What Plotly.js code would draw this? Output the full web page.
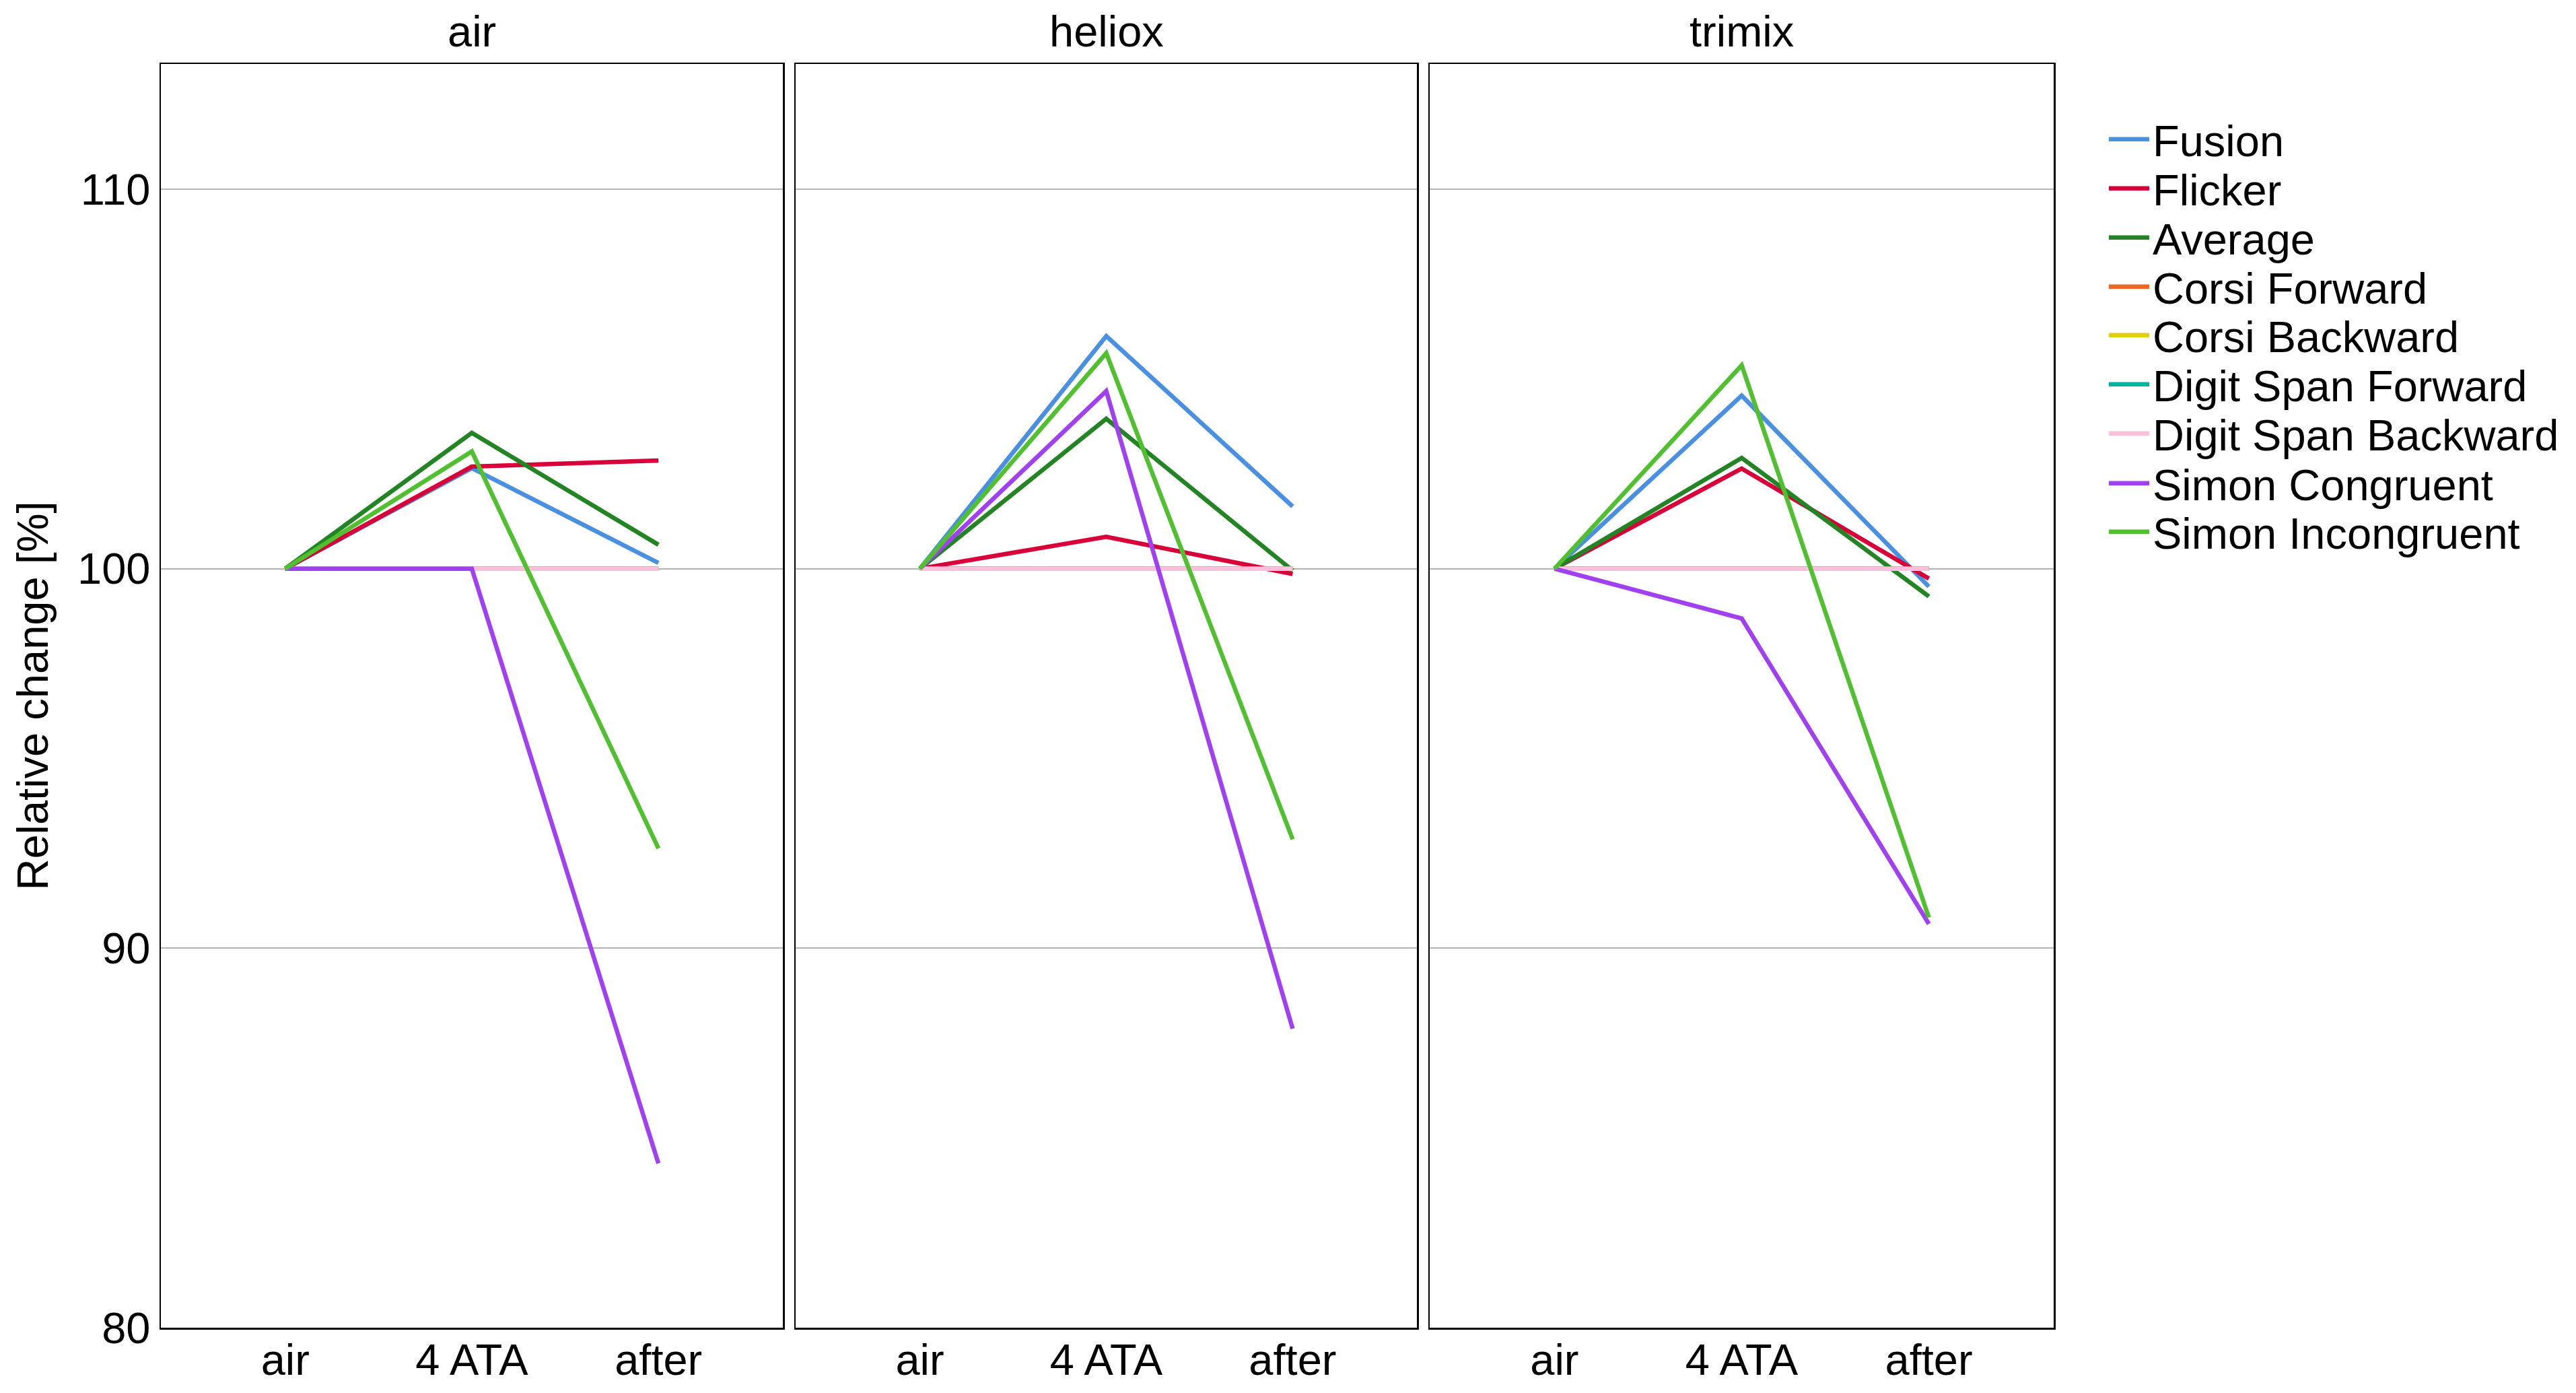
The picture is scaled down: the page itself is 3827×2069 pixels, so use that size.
<!DOCTYPE html>
<html>
<head>
<meta charset="utf-8">
<script src="https://cdn.plot.ly/plotly-3.0.1.min.js"></script>
<style>html,body{margin:0;padding:0;background:#fff;}#chart{width:3827px;height:2069px;}</style>
</head>
<body>
<div id="chart"></div>
<script>
// ---- data ----
const phases = ['air', '4 ATA', 'after'];
const gases = ['air', 'heliox', 'trimix'];
const seriesNames = ['Fusion', 'Flicker', 'Average', 'Corsi Forward', 'Corsi Backward',
  'Digit Span Forward', 'Digit Span Backward', 'Simon Congruent', 'Simon Incongruent'];
const seriesColors = ['#4a90e2', '#d9003a', '#238423', '#f06424', '#e0d010',
  '#00b5a0', '#ffbfdd', '#a040f0', '#50c030'];

// each array: [air panel, heliox panel, trimix panel], values at air / 4 ATA / after
const fusion            = [[100, 102.65, 100.15], [100, 106.13, 101.64], [100, 104.56, 99.53]];
const flicker           = [[100, 102.69, 102.85], [100, 100.84, 99.86], [100, 102.64, 99.74]];
const average           = [[100, 103.58, 100.63], [100, 103.95, 99.95], [100, 102.92, 99.27]];
const corsiForward      = [[100, 100, 100], [100, 100, 100], [100, 100, 100]];
const corsiBackward     = [[100, 100, 100], [100, 100, 100], [100, 100, 100]];
const digitSpanForward  = [[100, 100, 100], [100, 100, 100], [100, 100, 100]];
const digitSpanBackward = [[100, 100, 100], [100, 100, 100], [100, 100, 100]];
const simonCongruent    = [[100, 100, 84.33], [100, 104.68, 87.88], [100, 98.69, 90.64]];
const simonIncongruent  = [[100, 103.09, 92.63], [100, 105.68, 92.87], [100, 105.36, 90.81]];

const yTickVals = [80, 90, 100, 110];
const yTickText = ['80', '90', '100', '110'];

const seriesValues = [fusion, flicker, average, corsiForward, corsiBackward,
  digitSpanForward, digitSpanBackward, simonCongruent, simonIncongruent];

// ---- build traces ----
const FONT = 'Liberation Sans, Arial, Helvetica, sans-serif';
const FS = 65;
const traces = [];
gases.forEach((g, gi) => {
  seriesNames.forEach((name, si) => {
    traces.push({
      type: 'scatter',
      mode: 'lines',
      x: phases,
      y: seriesValues[si][gi],
      name: name,
      legendgroup: name,
      legend: si === 0 ? 'legend' : 'legend' + (si + 1),
      showlegend: gi === 0,
      line: {color: seriesColors[si], width: 6.5},
      xaxis: gi === 0 ? 'x' : 'x' + (gi + 1),
      yaxis: gi === 0 ? 'y' : 'y' + (gi + 1),
      hoverinfo: 'x+y+name'
    });
  });
});

// ---- layout ----
const W = 3827, H = 2069;
const mL = 239, mR = 776, mT = 95, mB = 97;
const plotW = W - mL - mR, plotH = H - mT - mB;
const panelPx = [[239, 1163], [1182, 2105], [2124, 3051]];
const dom = p => [(p[0] - mL) / plotW, Math.min(1, (p[1] - mL) / plotW)];

function xAxis(i) {
  return {
    domain: dom(panelPx[i]),
    anchor: i === 0 ? 'y' : 'y' + (i + 1),
    type: 'category',
    range: [-2 / 3, 8 / 3],
    showgrid: false, zeroline: false,
    showline: true, mirror: true, linecolor: '#000', linewidth: 2.5,
    ticks: '', ticklabelstandoff: -11,
    tickfont: {family: FONT, size: FS, color: '#000'}
  };
}
function yAxis(i) {
  const a = {
    anchor: i === 0 ? 'x' : 'x' + (i + 1),
    range: [80, 113.3],
    tickvals: yTickVals, ticktext: yTickText,
    showgrid: true, gridcolor: '#b4b4b4', gridwidth: 2,
    zeroline: false,
    showline: true, mirror: true, linecolor: '#000', linewidth: 2.5,
    ticks: '', showticklabels: i === 0, ticklabelstandoff: 0,
    tickfont: {family: FONT, size: FS, color: '#000'}
  };
  if (i === 0) {
    a.title = {text: 'Relative change [%]', font: {family: FONT, size: FS, color: '#000'}, standoff: 23};
  } else {
    a.matches = 'y';
  }
  return a;
}

const layout = {
  width: W, height: H,
  margin: {l: mL, r: mR, t: mT, b: mB, pad: 0},
  paper_bgcolor: '#fff', plot_bgcolor: '#fff',
  font: {family: FONT, size: FS, color: '#000'},
  xaxis: xAxis(0), xaxis2: xAxis(1), xaxis3: xAxis(2),
  yaxis: yAxis(0), yaxis2: yAxis(1), yaxis3: yAxis(2),
  annotations: gases.map((g, i) => ({
    text: g, xref: 'paper', yref: 'paper',
    x: ((panelPx[i][0] + panelPx[i][1]) / 2 - mL) / plotW,
    y: 1 + (95 - 46) / plotH,
    xanchor: 'center', yanchor: 'middle', showarrow: false,
    font: {family: FONT, size: FS, color: '#000'}
  })),
  showlegend: true
};

// one legend per row so the row spacing matches the reference
const legendRowPx = [207, 280, 353, 426, 498, 571, 644, 718, 790];
seriesNames.forEach((n, si) => {
  const key = si === 0 ? 'legend' : 'legend' + (si + 1);
  layout[key] = {
    x: (3128 - mL) / plotW,
    y: 1 - (legendRowPx[si] - mT) / plotH,
    xanchor: 'left', yanchor: 'middle',
    bgcolor: 'rgba(0,0,0,0)', borderwidth: 0,
    itemwidth: 60,
    font: {family: FONT, size: FS, color: '#000'}
  };
});

Plotly.newPlot('chart', traces, layout, {displayModeBar: false, staticPlot: true});
</script>
</body>
</html>
